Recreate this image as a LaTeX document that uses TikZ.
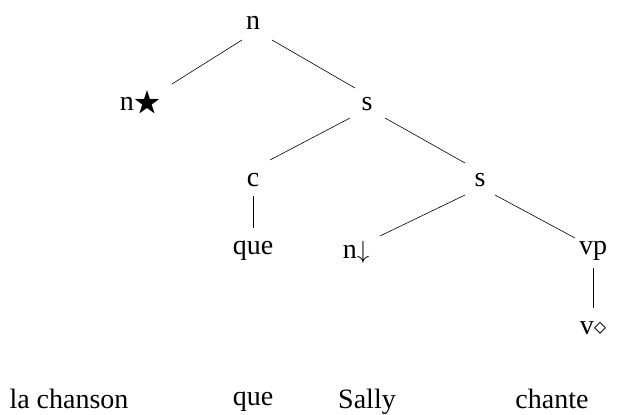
\documentclass[tikz,border=0pt]{standalone}
\usepackage{amssymb}
\usepackage{fontspec}
\setmainfont{Liberation Serif}
\begin{document}
\begin{tikzpicture}[x=1pt,y=-1pt,
  lbl/.style={font=\fontsize{28}{32}\selectfont, inner sep=2pt, anchor=base},
  br/.style={draw=black, line width=0.6pt}]
\useasboundingbox (0,0) rectangle (635,415);
\node[lbl] (n) at (253,30) {n};
\node[lbl] (nstar) at (140,110) {n$\bigstar$};
\node[lbl] (s1) at (367,110) {s};
\node[lbl] (c) at (253,186) {c};
\node[lbl] (s2) at (480,186) {s};
\node[lbl] (que1) at (253,254) {que};
\node[lbl] (ndown) at (356,258) {n$\downarrow$};
\node[lbl] (vp) at (593,254) {vp};
\node[lbl] (vd) at (593,334) {v$\diamond$};
\node[lbl] (w1) at (69,408) {la chanson};
\node[lbl] (w2) at (253,405) {que};
\node[lbl] (w3) at (367,408) {Sally};
\node[lbl] (w4) at (552,408) {chante};
\coordinate (a1) at (242,40); \coordinate (b1) at (172,84);
\coordinate (a2) at (272,40); \coordinate (b2) at (355,88);
\coordinate (a3) at (350,118); \coordinate (b3) at (270,160);
\coordinate (a4) at (385,118); \coordinate (b4) at (465,163);
\coordinate (a5) at (253,196); \coordinate (b5) at (253,228);
\coordinate (a6) at (465,195); \coordinate (b6) at (380,236);
\coordinate (a7) at (495,195); \coordinate (b7) at (575,238);
\coordinate (a8) at (593,268); \coordinate (b8) at (593,308);
\draw[br] (a1) -- (b1);
\draw[br] (a2) -- (b2);
\draw[br] (a3) -- (b3);
\draw[br] (a4) -- (b4);
\draw[br] (a5) -- (b5);
\draw[br] (a6) -- (b6);
\draw[br] (a7) -- (b7);
\draw[br] (a8) -- (b8);
\end{tikzpicture}
\end{document}
